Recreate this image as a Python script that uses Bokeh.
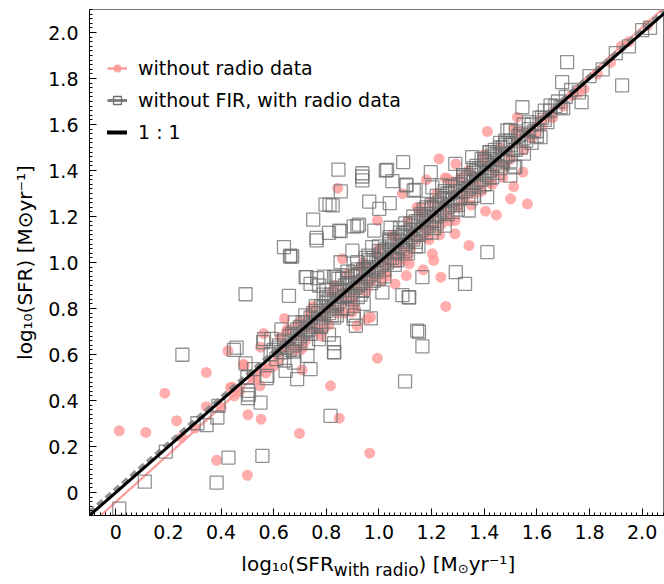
from bokeh.plotting import figure
from bokeh.layouts import column
from bokeh.models import (Range1d, SingleIntervalTicker, CustomJSTickFormatter,
                          Legend, LegendItem)
from bokeh.core.properties import value
from bokeh.embed import file_html
from bokeh.resources import INLINE

# ---------------- data ----------------
# "without radio data" (pink circles)
pink_x = [0.013, 0.114, 0.186, 0.231, 0.344, 0.344, 0.383, 0.436, 0.426, 0.500, 0.502, 0.552,
          0.548, 0.485, 0.562, 0.641, 0.698, 0.652, 0.708, 0.816, 0.740, 1.254, 0.994, 0.849,
          0.965, 1.921, 1.779, 1.526, 1.412, 1.228, 1.564, 1.500, 1.547, 1.405, 1.446, 1.342,
          1.289, 0.843, 0.994, 1.089, 1.292, 1.260, 1.104, 1.168, 1.235, 1.061, 0.861, 1.513,
          1.115, 1.203, 0.626, 0.550, 0.639, 0.702, 0.917, 0.955, 0.898, 0.487, 0.443, 0.892,
          0.740, 1.290, 1.180, 1.252, 1.145, 1.208, 0.968, 0.904, 0.690, 1.512, 1.594, 1.638,
          1.733,
          0.62, 0.65, 0.68, 0.70, 0.72, 0.75, 0.77, 0.79, 0.81, 0.83, 0.85, 0.87, 0.88, 0.90,
          0.92, 0.94, 0.96, 0.98, 1.00, 1.02, 1.03, 1.05, 1.07, 1.09, 1.11, 1.12, 1.14, 1.16,
          1.18, 1.20, 1.22, 1.24, 1.26, 1.28, 1.30, 1.32, 1.34, 1.36, 1.38, 1.40, 1.42, 1.44,
          1.46, 1.48, 1.50, 1.53, 1.55, 1.58, 1.62, 1.66, 1.70, 1.76, 1.83, 1.88, 1.95, 2.02,
          0.45, 0.52, 0.55, 0.58, 0.40, 0.30, 0.25, 0.84, 0.97, 1.06, 1.19, 1.33,
          0.66, 0.73, 0.76, 0.80, 0.86, 0.89, 0.93, 0.97, 1.01, 1.04, 1.08, 1.13, 1.17, 1.21,
          1.25, 1.29, 1.33, 1.37, 1.41, 1.45, 1.49, 1.52, 1.57, 1.61, 1.65, 0.78, 0.91, 1.01,
          1.10, 1.23, 1.35, 1.47, 0.82, 0.99, 1.16, 1.31, 0.47, 0.53, 0.57, 0.60,
          0.71, 0.79, 0.87, 0.95, 1.03, 1.11, 1.19, 1.27, 1.39, 1.43, 0.74, 0.93, 1.06, 1.20,
          1.40]
pink_y = [0.268, 0.261, 0.432, 0.312, 0.522, 0.373, 0.140, 0.457, 0.616, 0.075, 0.338, 0.319,
          0.464, 0.558, 0.691, 0.757, 0.257, 0.710, 0.533, 0.464, 0.783, 0.809, 0.584, 0.323,
          0.171, 1.940, 1.755, 1.632, 1.570, 1.451, 1.255, 1.277, 1.393, 1.223, 1.207, 1.074,
          1.125, 1.323, 1.183, 1.299, 1.429, 1.364, 0.943, 0.968, 0.936, 0.907, 1.016, 1.581,
          0.994, 1.038, 0.675, 0.632, 0.632, 0.620, 0.726, 0.755, 0.784, 0.552, 0.458, 0.835,
          0.712, 1.183, 1.360, 1.368, 1.240, 1.009, 0.762, 0.806, 0.726, 1.330, 1.560, 1.632,
          1.726,
          0.58, 0.70, 0.62, 0.74, 0.66, 0.81, 0.70, 0.76, 0.73, 0.90, 0.79, 0.83, 0.95, 0.84,
          0.88, 1.00, 0.90, 0.93, 1.06, 0.95, 0.99, 1.12, 1.00, 1.05, 1.18, 1.06, 1.10, 1.24,
          1.11, 1.16, 1.30, 1.17, 1.21, 1.35, 1.24, 1.27, 1.40, 1.30, 1.33, 1.45, 1.35, 1.39,
          1.50, 1.42, 1.45, 1.57, 1.49, 1.54, 1.59, 1.63, 1.68, 1.74, 1.82, 1.87, 1.96, 2.03,
          0.42, 0.50, 0.53, 0.54, 0.37, 0.28, 0.24, 0.78, 0.92, 1.02, 1.14, 1.29,
          0.64, 0.75, 0.72, 0.80, 0.87, 0.84, 0.93, 0.98, 1.00, 1.03, 1.09, 1.13, 1.15, 1.21,
          1.25, 1.30, 1.33, 1.36, 1.42, 1.44, 1.48, 1.53, 1.56, 1.62, 1.64, 0.68, 0.80, 0.92,
          1.01, 1.12, 1.25, 1.37, 0.87, 1.04, 1.21, 1.37, 0.44, 0.49, 0.52, 0.55,
          0.63, 0.71, 0.78, 0.87, 0.94, 1.03, 1.10, 1.18, 1.31, 1.34, 0.78, 0.98, 1.11, 1.26,
          1.47]

# "without FIR, with radio data" (grey open squares)
sq_x = [0.013, 0.110, 0.190, 0.253, 0.310, 0.345, 0.383, 0.386, 0.390, 0.428, 0.449, 0.459,
        0.493, 0.502, 0.502, 0.557, 0.550, 0.493, 0.658, 0.576, 0.563, 0.645, 0.689, 0.740,
        0.728, 0.677, 0.816, 0.588, 0.772, 0.525, 1.152, 1.165, 1.099, 1.115, 1.089, 0.969,
        0.912, 0.830, 1.013, 0.797, 0.812, 0.750, 0.763, 0.763, 0.810, 0.639, 0.664, 0.725,
        0.740, 0.772, 0.791, 1.715, 1.696, 1.924, 1.770, 1.545, 1.652, 1.690, 1.488, 1.614,
        1.551, 0.846, 0.937, 0.937, 1.026, 1.092, 1.051, 0.855, 0.963, 1.001, 1.041, 1.104,
        1.197, 0.824, 0.849, 0.918, 0.982, 0.899, 0.846, 1.165, 1.292, 1.327, 1.412, 1.513,
        1.203, 1.431, 0.936, 1.031, 0.854, 0.904, 0.924, 0.670, 0.974, 1.044, 1.132, 0.721,
        0.765, 0.829, 1.113, 1.145, 0.904, 1.499, 1.290, 1.354, 1.421, 1.518, 1.104, 1.499,
        1.240, 1.139, 1.411, 1.341, 1.183, 0.835, 0.662, 0.591, 0.560, 0.500, 0.506, 0.573,
        0.641, 0.629, 0.674, 0.810, 0.829, 0.829, 0.904, 0.942, 0.854, 0.917,
        0.60, 0.61, 0.62, 0.63, 0.64, 0.65, 0.66, 0.67, 0.68, 0.69, 0.70, 0.71, 0.72, 0.73,
        0.74, 0.75, 0.76, 0.77, 0.78, 0.79, 0.80, 0.81, 0.82, 0.83, 0.84, 0.85, 0.86, 0.87,
        0.88, 0.89, 0.90, 0.91, 0.92, 0.93, 0.94, 0.95, 0.96, 0.97, 0.98, 0.99, 1.00, 1.01,
        1.02, 1.03, 1.04, 1.05, 1.06, 1.07, 1.08, 1.09, 1.10, 1.11, 1.12, 1.13, 1.14, 1.15,
        1.16, 1.17, 1.18, 1.19, 1.20, 1.21, 1.22, 1.23, 1.24, 1.25, 1.26, 1.27, 1.28, 1.29,
        1.30, 1.31, 1.32, 1.33, 1.34, 1.35, 1.36, 1.37, 1.38, 1.39, 1.40, 1.41, 1.42, 1.43,
        1.44, 1.45, 1.46, 1.47, 1.48, 1.49, 1.50, 1.52, 1.54, 1.56, 1.58, 1.60, 1.62, 1.64,
        1.67, 1.70, 1.73, 1.76, 1.80, 1.85, 1.90, 1.95, 2.00, 2.03,
        0.78, 0.80, 0.83, 0.86, 0.88, 0.91, 0.93, 0.95, 0.97, 1.00, 1.02, 1.04, 1.06, 1.08,
        1.11, 1.13, 1.15, 1.17, 1.20, 1.22, 1.25, 1.27, 1.30, 1.32, 1.35, 1.37, 1.40, 1.42,
        1.45, 1.48,
        0.62, 0.64, 0.66, 0.67, 0.69, 0.70, 0.71, 0.72, 0.73, 0.74, 0.75, 0.76, 0.77, 0.78,
        0.79, 0.80, 0.81, 0.82, 0.83, 0.84, 0.85, 0.86, 0.87, 0.88, 0.89, 0.90, 0.91, 0.92,
        0.93, 0.94, 0.95, 0.96, 0.97, 0.98, 0.99, 1.00, 1.01, 1.02, 1.03, 1.04, 1.05, 1.06,
        1.07, 1.08, 1.09, 1.10, 1.11, 1.12, 1.13, 1.14, 1.15, 1.16, 1.17, 1.18, 1.19, 1.20,
        1.21, 1.22, 1.23, 1.24, 1.25, 1.26, 1.27, 1.28, 1.29, 1.30, 1.31, 1.32, 1.33, 1.34,
        1.35, 1.36, 1.37, 1.38, 1.39, 1.40, 1.41, 1.42, 1.43, 1.44, 1.45, 1.46, 1.47, 1.48,
        1.50, 1.51, 1.53, 1.55, 1.57, 1.59, 1.61, 1.63, 1.65, 1.68, 1.71,
        0.68, 0.73, 0.79, 0.84, 0.88, 0.92, 0.96, 1.00, 1.04, 1.07, 1.10, 1.14, 1.18, 1.21,
        1.25, 1.28, 1.32, 1.36, 1.39, 1.43, 1.46, 1.50, 1.55, 1.58,
        0.70, 0.72, 0.74, 0.76, 0.78, 0.80, 0.82, 0.84, 0.86, 0.88, 0.90, 0.92, 0.94, 0.96,
        0.98, 1.00, 1.02, 1.04, 1.06, 1.08, 1.10, 1.12, 1.14, 1.16, 1.18, 1.20, 1.22, 1.24,
        1.26, 1.28, 1.30, 1.32, 1.34, 1.36, 1.38, 1.40, 1.42, 1.44, 1.46, 1.48, 1.52, 1.54,
        1.57, 1.60, 1.63]
sq_y = [-0.070, 0.047, 0.178, 0.599, 0.301, 0.293, 0.043, 0.326, 0.377, 0.152, 0.620, 0.630,
        0.561, 0.442, 0.410, 0.159, 0.391, 0.862, 0.855, 0.507, 0.667, 0.529, 0.493, 0.536,
        0.594, 0.565, 0.333, 0.601, 0.667, 0.536, 0.699, 0.635, 0.483, 0.848, 0.858, 0.757,
        0.725, 0.609, 0.870, 1.252, 1.252, 1.186, 1.107, 1.096, 1.129, 1.067, 1.030, 0.936,
        0.907, 0.900, 0.939, 1.871, 1.784, 1.770, 1.697, 1.675, 1.683, 1.675, 1.574, 1.545,
        1.473, 1.404, 1.388, 1.357, 1.400, 1.436, 1.354, 1.309, 1.265, 1.233, 1.258, 1.338,
        1.393, 1.248, 1.139, 1.158, 1.139, 1.052, 0.929, 0.936, 0.958, 0.907, 1.045, 1.414,
        1.327, 1.480, 1.374, 1.403, 1.136, 1.157, 1.165, 1.026, 1.067, 1.151, 1.313, 0.936,
        0.932, 0.936, 0.849, 0.704, 0.770, 1.577, 1.429, 1.458, 1.480, 1.417, 1.335, 1.378,
        1.335, 1.316, 1.284, 1.226, 1.255, 0.939, 1.026, 0.668, 0.654, 0.501, 0.426, 0.497,
        0.574, 0.709, 0.613, 0.686, 0.610, 0.649, 0.755, 0.820, 1.001, 1.001,
        0.62, 0.58, 0.64, 0.61, 0.66, 0.63, 0.62, 0.69, 0.65, 0.71, 0.68, 0.74, 0.70, 0.69,
        0.76, 0.72, 0.79, 0.74, 0.81, 0.77, 0.83, 0.78, 0.86, 0.81, 0.87, 0.83, 0.88, 0.85,
        0.91, 0.86, 0.94, 0.89, 0.95, 0.91, 0.97, 0.93, 0.98, 0.95, 1.02, 0.96, 1.03, 0.99,
        1.05, 1.00, 1.08, 1.02, 1.09, 1.05, 1.11, 1.06, 1.13, 1.09, 1.14, 1.10, 1.18, 1.12,
        1.19, 1.15, 1.21, 1.16, 1.24, 1.18, 1.25, 1.21, 1.27, 1.22, 1.30, 1.25, 1.31, 1.26,
        1.34, 1.28, 1.35, 1.31, 1.37, 1.33, 1.39, 1.35, 1.41, 1.36, 1.44, 1.38, 1.45, 1.41,
        1.47, 1.42, 1.50, 1.44, 1.51, 1.47, 1.53, 1.49, 1.56, 1.53, 1.60, 1.57, 1.63, 1.61,
        1.68, 1.67, 1.75, 1.74, 1.81, 1.84, 1.91, 1.94, 2.01, 2.02,
        0.72, 0.88, 0.76, 0.93, 0.80, 0.96, 0.86, 1.02, 0.91, 1.07, 0.94, 1.11, 0.99, 1.15,
        1.04, 1.20, 1.07, 1.23, 1.13, 1.29, 1.16, 1.33, 1.23, 1.38, 1.28, 1.42, 1.34, 1.48,
        1.39, 1.53,
        0.63, 0.61, 0.68, 0.64, 0.67, 0.72, 0.69, 0.74, 0.71, 0.73, 0.78, 0.74, 0.78, 0.76,
        0.81, 0.79, 0.84, 0.80, 0.84, 0.82, 0.88, 0.85, 0.90, 0.86, 0.91, 0.88, 0.94, 0.90,
        0.95, 0.92, 0.97, 0.94, 1.00, 0.97, 1.01, 0.98, 1.04, 1.01, 1.06, 1.02, 1.07, 1.04,
        1.10, 1.07, 1.12, 1.08, 1.13, 1.11, 1.16, 1.12, 1.18, 1.14, 1.20, 1.17, 1.21, 1.18,
        1.24, 1.20, 1.26, 1.23, 1.28, 1.24, 1.30, 1.27, 1.31, 1.28, 1.34, 1.31, 1.36, 1.32,
        1.38, 1.35, 1.40, 1.36, 1.41, 1.39, 1.44, 1.40, 1.46, 1.43, 1.47, 1.45, 1.50, 1.46,
        1.51, 1.49, 1.55, 1.54, 1.58, 1.57, 1.63, 1.62, 1.66, 1.70, 1.72,
        0.74, 0.65, 0.86, 0.77, 0.96, 0.85, 1.03, 0.93, 1.10, 1.01, 1.17, 1.07, 1.24, 1.15,
        1.31, 1.22, 1.38, 1.29, 1.45, 1.37, 1.52, 1.44, 1.60, 1.52,
        0.66, 0.77, 0.69, 0.81, 0.73, 0.85, 0.77, 0.89, 0.80, 0.93, 0.84, 0.97, 0.88, 1.01,
        0.92, 1.05, 0.97, 1.09, 1.01, 1.13, 1.05, 1.17, 1.09, 1.21, 1.13, 1.25, 1.17, 1.29,
        1.21, 1.33, 1.25, 1.37, 1.29, 1.41, 1.33, 1.45, 1.37, 1.49, 1.41, 1.52, 1.57, 1.50,
        1.61, 1.55, 1.66]

# lines: 1:1 relation and the two linear fits
line_x = [-0.1, 2.1]
one_to_one_y = [-0.1, 2.1]
pink_fit_y = [-0.144, 2.126]
grey_fit_y = [-0.088, 2.108]

# axis ticks
tick_interval = 0.2

# x-axis title pieces
xlabel_parts = ["log\u2081\u2080(SFR", "with radio", ") [M", "\u2299", "yr\u207b\u00b9]"]

# ---------------- main figure ----------------
X0, X1 = -0.1, 2.085
Y0, Y1 = -0.1, 2.1
W = 664
H_MAIN, H_LAB = 548, 36
BL, BR, BT, BB = 89, 0, 9, 33
FONT = "DejaVu Sans"

p = figure(width=W, height=H_MAIN, output_backend="svg", toolbar_location=None,
           x_range=Range1d(X0, X1), y_range=Range1d(Y0, Y1),
           min_border_left=BL, min_border_right=BR, min_border_top=BT, min_border_bottom=BB,
           background_fill_color="white", border_fill_color="white")
p.xgrid.visible = False
p.ygrid.visible = False
p.outline_line_color = "#777777"
p.outline_line_width = 1

fmt = CustomJSTickFormatter(code="return Math.abs(tick) < 1e-9 ? '0' : tick.toFixed(1);")
for ax in (p.xaxis[0], p.yaxis[0]):
    ax.ticker = SingleIntervalTicker(interval=tick_interval, num_minor_ticks=10)
    ax.formatter = fmt
    ax.major_tick_in = 7
    ax.major_tick_out = 0
    ax.minor_tick_in = 3
    ax.minor_tick_out = 0
    ax.axis_line_color = "black"
    ax.major_tick_line_color = "black"
    ax.minor_tick_line_color = "black"
    ax.major_label_text_font = FONT
    ax.major_label_text_font_size = "19px"
    ax.major_label_text_color = "black"
p.xaxis.major_label_standoff = 9
p.yaxis.major_label_standoff = 11

p.yaxis.axis_label = "log\u2081\u2080(SFR) [M\u2299yr\u207b\u00b9]"
p.yaxis.axis_label_text_font = FONT
p.yaxis.axis_label_text_font_size = "20px"
p.yaxis.axis_label_text_font_style = "normal"
p.yaxis.axis_label_text_color = "black"
p.yaxis.axis_label_standoff = 8

pink_line = p.line(line_x, pink_fit_y, line_color="#ff9d9d", line_width=2.2)
pink_pts = p.scatter(pink_x, pink_y, marker="circle", size=11,
                     fill_color="#ff9999", fill_alpha=0.8, line_color=None)
grey_pts = p.scatter(sq_x, sq_y, marker="square", size=13, fill_color=None,
                     line_color="#6e6e6e", line_alpha=0.75, line_width=1.3)
grey_line = p.line(line_x, grey_fit_y, line_color="#808080", line_alpha=0.85,
                   line_width=5, line_dash="7 4")
one_line = p.line(line_x, one_to_one_y, line_color="black", line_width=3, line_cap="round")

# hidden copies used only for the legend swatches (smaller markers, as in the reference)
leg_pink = p.scatter(pink_x, pink_y, marker="circle", size=10, fill_color="#ff9999",
                     fill_alpha=0.9, line_color=None, visible=False)
leg_sq = p.scatter(sq_x, sq_y, marker="square", size=8, fill_color=None,
                   line_color="#6e6e6e", line_width=1.3, visible=False)
leg_pink_line = p.line(line_x, pink_fit_y, line_color="#ff9d9d", line_width=2.5, visible=False)
leg_grey_line = p.line(line_x, grey_fit_y, line_color="#808080", line_width=3, visible=False)
leg_black = p.line(line_x, one_to_one_y, line_color="black", line_width=4,
                   line_cap="round", visible=False)

legend = Legend(items=[
    LegendItem(label="without radio data", renderers=[leg_pink_line, leg_pink]),
    LegendItem(label="without FIR, with radio data", renderers=[leg_grey_line, leg_sq]),
    LegendItem(label="1 : 1", renderers=[leg_black]),
], location=(18, 372), padding=0, spacing=10, label_height=22, glyph_height=22,
    glyph_width=20, label_standoff=11, border_line_color=None, background_fill_alpha=0,
    label_text_font=FONT, label_text_font_size="19px", label_text_color="black",
    click_policy="none")
p.add_layout(legend, "center")

# ---------------- x-axis title strip (frame is aligned with the main frame) ----------------
lab = figure(width=W, height=H_LAB, output_backend="svg", toolbar_location=None,
             x_range=Range1d(BL, W - BR), y_range=Range1d(0, H_LAB),
             min_border=0, min_border_left=0, min_border_right=0,
             min_border_top=0, min_border_bottom=0)
lab.axis.visible = False
lab.xgrid.visible = False
lab.ygrid.visible = False
lab.outline_line_color = None

sizes = [20, 17, 20, 13, 20]
drops = [0, 6, 0, 5, 0]
widths = [92.4, 84.8, 39.2, 11.0, 43.9]
total = sum(widths)
cx = BL + (W - BL - BR) / 2
sx = cx - total / 2
base = 21  # anchor height above the strip bottom
for txt, fs, dr, w in zip(xlabel_parts, sizes, drops, widths):
    lab.text(x=[sx], y=[base - dr], text=[txt], text_font=value(FONT),
             text_font_size=value(f"{fs}px"), text_align="left",
             text_baseline="alphabetic", text_color="black")
    sx += w

layout = column(p, lab, spacing=0)
open("out.html", "w").write(file_html(layout, INLINE))
